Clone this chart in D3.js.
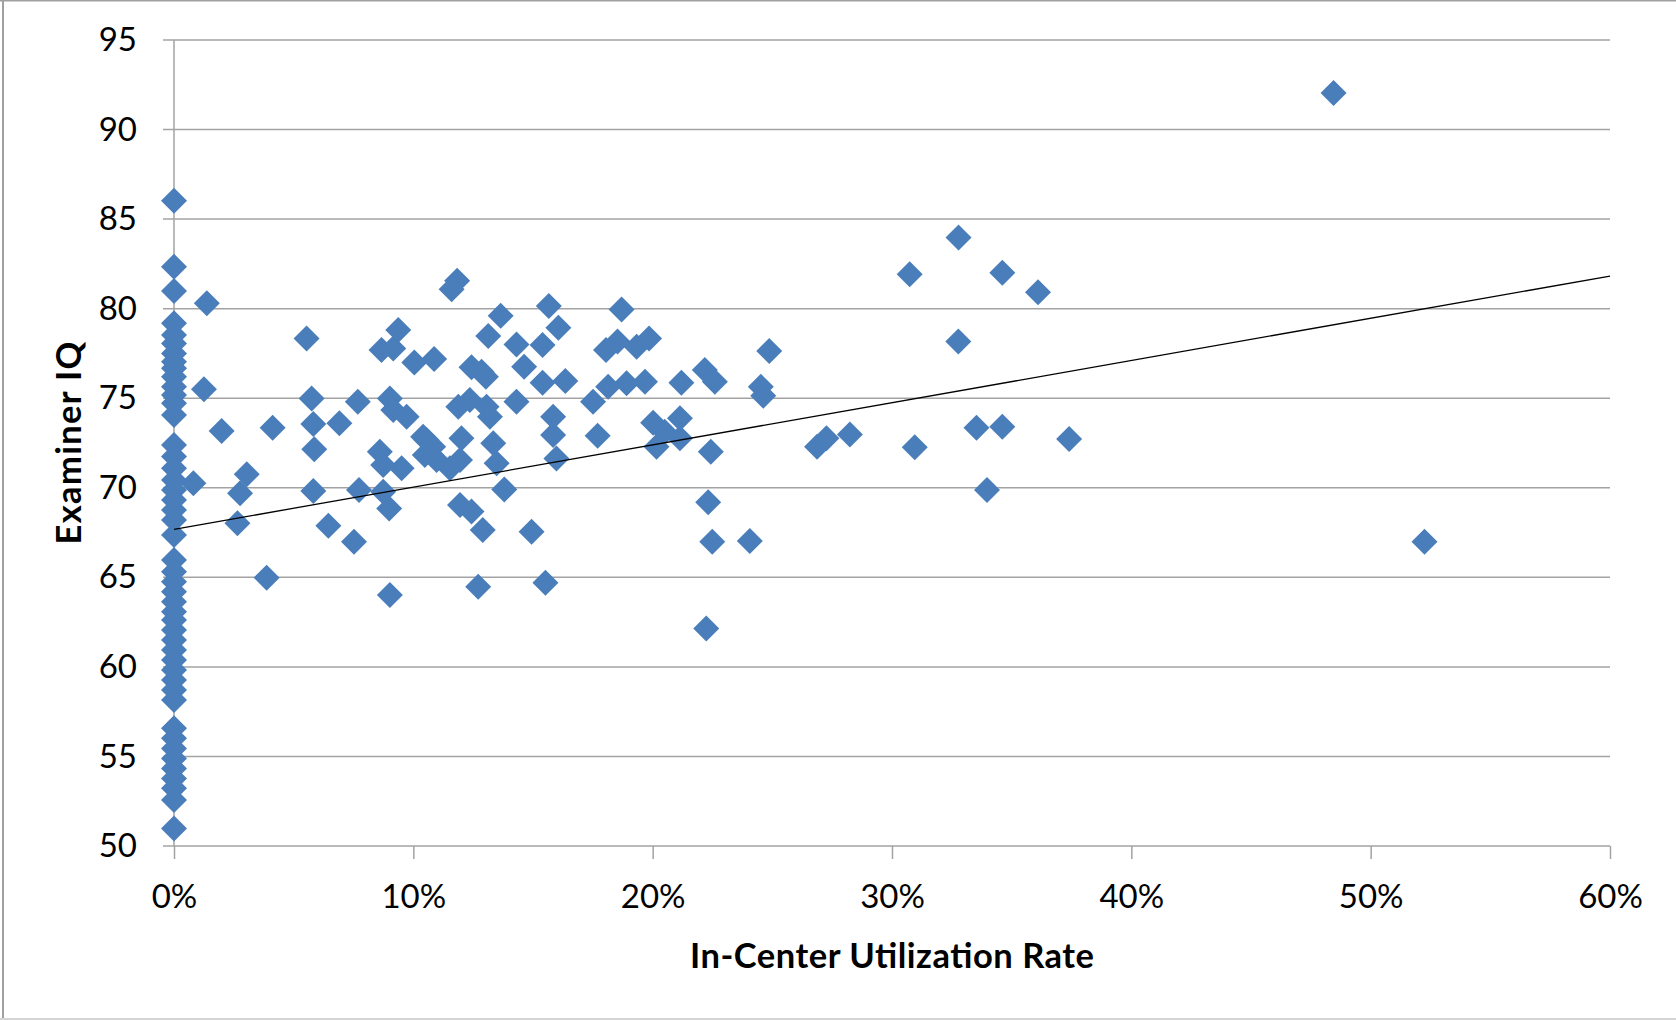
<!DOCTYPE html>
<html><head><meta charset="utf-8">
<script src="https://cdn.jsdelivr.net/npm/d3@7"></script>
<style>
body{margin:0;background:#fff}
svg{display:block}
text{font-family:Lato,"Open Sans",sans-serif;fill:#000}
</style>
</head><body>
<svg id="chart" width="1676" height="1020"></svg>
<script>
// In-Center Utilization Rate (%), examiners with 0% utilization
const zeroRateIQ = [86.03, 82.34, 80.99, 79.18, 78.53, 78.06, 77.5, 77.04, 76.67, 76.2, 75.64, 75.18, 74.72, 74.06,
  72.39, 71.74, 71.09, 70.43, 69.87, 69.32, 68.76, 68.2, 67.36, 65.97, 65.31, 64.76, 64.2, 63.64, 63.08, 62.62,
  62.06, 61.5, 60.94, 60.38, 59.83, 59.27, 58.71, 58.15, 56.57, 56.01, 55.45, 54.89, 54.33, 53.77, 53.22, 52.57, 50.98];

// examiners with non-zero utilization: rate (%) and IQ
const utilRate = [0.81, 1.37, 1.25, 1.99, 3.04, 2.76, 2.65, 3.87, 4.12, 5.54, 5.75, 5.82, 5.86, 5.82, 6.45, 6.91, 7.68, 7.73, 7.52,
  8.67, 9.16, 9.37, 9.02, 9.16, 9.72, 8.6, 8.74, 8.74, 8.99, 9.02, 9.51,
  11.83, 11.6, 13.65, 15.66, 16.06, 18.7, 24.87, 10.04, 10.87, 13.13, 14.31, 15.4, 14.63, 12.43, 13.03, 12.85,
  18.05, 18.53, 19.33, 19.85, 15.4, 16.35, 18.14, 18.91, 19.68, 21.2, 22.18, 22.6, 24.52, 24.62, 17.51, 14.31,
  11.88, 12.36, 13.06, 13.2, 15.84, 15.84, 15.98, 17.7, 20.02, 20.16, 21.14, 21.14, 20.5, 22.43,
  10.55, 10.41, 10.83, 10.48, 10.97, 11.53, 12.01, 11.95, 13.34, 13.48, 13.8, 11.95, 12.43, 12.9, 14.94,
  12.71, 15.52, 22.32, 22.49, 24.06, 22.24,
  30.74, 34.61, 36.1, 32.77, 26.87, 27.26, 28.24, 30.95, 33.53, 34.61, 37.4, 33.97, 32.78,
  48.45, 52.25];
const utilIQ = [70.25, 80.3, 75.5, 73.17, 70.75, 69.7, 68.02, 64.98, 73.35, 78.34, 74.99, 73.56, 72.15, 69.82, 67.88, 73.6, 74.81, 69.87, 66.99,
  77.69, 77.78, 78.81, 74.99, 74.34, 73.97, 72.01, 71.27, 69.78, 68.85, 64.01, 71.09,
  81.56, 81.08, 79.6, 80.15, 78.94, 79.96, 77.64, 77.0, 77.19, 78.47, 78.0, 77.97, 76.76, 76.73, 76.2, 76.48,
  77.69, 78.16, 77.88, 78.34, 75.87, 75.96, 75.64, 75.83, 75.92, 75.87, 76.57, 75.92, 75.64, 75.14, 74.81, 74.81,
  74.53, 74.9, 74.53, 73.97, 73.97, 72.95, 71.64, 72.91, 73.63, 72.29, 73.88, 72.76, 73.13, 72.01,
  72.67, 72.85, 72.29, 71.83, 71.55, 71.09, 72.76, 71.55, 72.48, 71.37, 69.91, 69.04, 68.67, 67.64, 67.55,
  64.48, 64.7, 69.19, 66.99, 67.03, 62.14,
  81.92, 82.01, 80.91, 78.16, 72.29, 72.76, 72.98, 72.26, 73.35, 73.41, 72.72, 69.87, 83.98,
  92.04, 66.98];

const xTicks = [0, 10, 20, 30, 40, 50, 60];
const yTicks = [50, 55, 60, 65, 70, 75, 80, 85, 90, 95];
const trendRate = [0, 60];
const trendIQ = [67.68, 81.82];
const xTitle = "In-Center Utilization Rate";
const yTitle = "Examiner IQ";

const points = zeroRateIQ.map(v => ({r: 0, v}))
  .concat(utilRate.map((r, i) => ({r, v: utilIQ[i]})));

const svg = d3.select("#chart");
const plot = {left: 174, right: 1610, top: 40, bottom: 846};
const x = d3.scaleLinear().domain([0, 60]).range([plot.left, plot.right]);
const y = d3.scaleLinear().domain([50, 95]).range([plot.bottom, plot.top]);
const grey = "#a3a3a3";

// outer frame
svg.append("line").attr("x1", 0).attr("x2", 1676).attr("y1", 0.75).attr("y2", 0.75).attr("stroke", "#a0a0a0").attr("stroke-width", 1.5);
svg.append("line").attr("x1", 3).attr("x2", 3).attr("y1", 0).attr("y2", 1020).attr("stroke", "#a0a0a0").attr("stroke-width", 2);
svg.append("line").attr("x1", 0).attr("x2", 1676).attr("y1", 1019).attr("y2", 1019).attr("stroke", "#d4d4d4").attr("stroke-width", 2);

// horizontal gridlines (with left tick stubs)
svg.append("g").selectAll("line").data(yTicks).join("line")
  .attr("x1", plot.left - 11).attr("x2", plot.right)
  .attr("y1", d => y(d)).attr("y2", d => y(d))
  .attr("stroke", grey).attr("stroke-width", 1.5);

// vertical axis line
svg.append("line").attr("x1", x(0)).attr("x2", x(0)).attr("y1", y(95)).attr("y2", y(50))
  .attr("stroke", grey).attr("stroke-width", 1.5);

// y axis labels
const gy = svg.append("g").attr("transform", `translate(${plot.left},0)`)
  .call(d3.axisLeft(y).tickValues(yTicks).tickSize(0).tickPadding(37));
gy.select(".domain").remove();
gy.selectAll("text").attr("font-size", 33).attr("font-family", "Lato");

// x axis
const gx = svg.append("g").attr("transform", `translate(0,${plot.bottom})`)
  .call(d3.axisBottom(x).tickValues(xTicks).tickFormat(d => d + "%").tickSize(13).tickPadding(26));
gx.select(".domain").remove();
gx.selectAll("line").attr("stroke", grey).attr("stroke-width", 1.5);
gx.selectAll("text").attr("font-size", 33).attr("font-family", "Lato");

// markers
svg.append("g").selectAll("path").data(points).join("path")
  .attr("d", "M0,-13L13,0L0,13L-13,0Z")
  .attr("transform", d => `translate(${x(d.r)},${y(d.v)})`)
  .attr("fill", "#4a7ebb");

// linear trendline
svg.append("line")
  .attr("x1", x(trendRate[0])).attr("y1", y(trendIQ[0]))
  .attr("x2", x(trendRate[1])).attr("y2", y(trendIQ[1]))
  .attr("stroke", "#000").attr("stroke-width", 1.3);

// titles
svg.append("text").attr("x", (plot.left + plot.right) / 2).attr("y", 968)
  .attr("text-anchor", "middle").attr("font-weight", "bold").attr("font-size", 34.5)
  .attr("textLength", 404).text(xTitle);
svg.append("text").attr("transform", `translate(81,${(plot.top + plot.bottom) / 2}) rotate(-90)`)
  .attr("text-anchor", "middle").attr("font-weight", "bold").attr("font-size", 34.5)
  .attr("textLength", 203).text(yTitle);
</script>
</body></html>
